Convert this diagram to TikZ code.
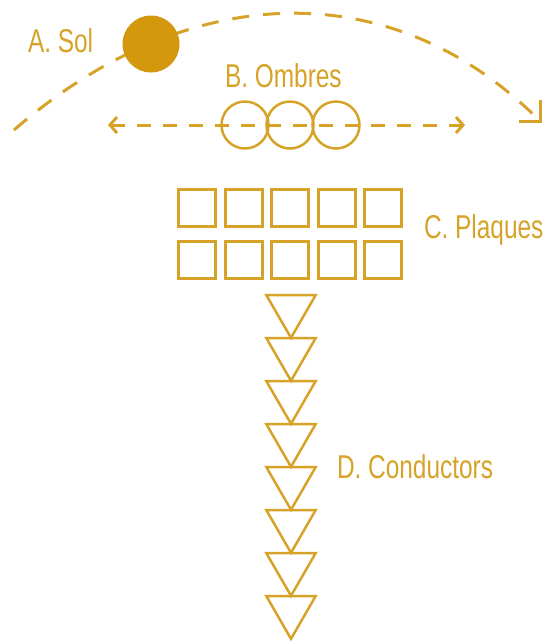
\documentclass[tikz,border=0pt]{standalone}
\usepackage{fontspec}
\setmainfont{Liberation Sans}[FakeStretch=0.74]
\usetikzlibrary{arrows.meta,shapes.geometric}
\definecolor{gold}{RGB}{214,163,40}
\definecolor{sungold}{RGB}{211,152,14}
\begin{document}
\begin{tikzpicture}[x=1pt,y=-1pt,
  every node/.style={inner sep=0pt,outer sep=0pt},
  lbl/.style={anchor=base west,text=gold,font=\fontsize{33}{36}\selectfont},
  shade/.style={circle,draw=gold,line width=2.5pt,minimum size=47pt},
  plate/.style={rectangle,draw=gold,line width=3pt,minimum size=37pt},
  wire/.style={regular polygon,regular polygon sides=3,shape border rotate=180,draw=gold,line width=2.5pt,minimum size=57pt},
  sunpath/.style={draw=gold,line width=3pt,dash pattern=on 17pt off 14pt},
  shadowpath/.style={draw=gold,line width=3pt,dash pattern=on 14pt off 12pt}
]
\useasboundingbox (0,0) rectangle (549,641);
% sun path
\coordinate (arcA) at (14,130);
\coordinate (arcB) at (542,123);
\draw[sunpath,-{Straight Barb[length=15pt,width=30pt,line width=3pt]}]
  (arcA) .. controls (187,-20) and (391,-28) .. (arcB);
\node[circle,fill=sungold,minimum size=57pt] (sun) at (151,44) {};
\node[lbl] (lA) at (28,52) {A. Sol};
% shadows
\node[lbl] (lB) at (225,87) {B. Ombres};
\node[shade] (s1) at (245,125) {};
\node[shade] (s2) at (290,125) {};
\node[shade] (s3) at (336,125) {};
\coordinate (dl) at (108,125);
\coordinate (dr) at (465,125);
\draw[shadowpath,{Straight Barb[length=7pt,width=16pt,line width=3pt]}-{Straight Barb[length=7pt,width=16pt,line width=3pt]}] (dl) -- (dr);
% plates
\foreach \i/\x in {1/197,2/243.5,3/290,4/336.5,5/383}{
  \node[plate] (p1\i) at (\x,207.5) {};
  \node[plate] (p2\i) at (\x,259.5) {};
}
\node[lbl] (lC) at (424,238) {C. Plaques};
% conductors
\foreach \k in {0,...,7}{
  \node[wire] (w\k) at (291,{309.3+43*\k}) {};
}
\node[lbl] (lD) at (337,478) {D. Conductors};
\end{tikzpicture}
\end{document}
